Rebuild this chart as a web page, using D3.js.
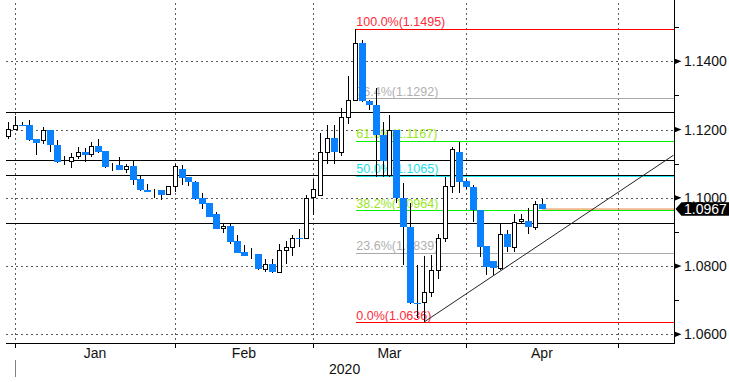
<!DOCTYPE html>
<html><head><meta charset="utf-8">
<script src="https://cdn.jsdelivr.net/npm/d3@7"></script>
<style>html,body{margin:0;padding:0;background:#fff;} svg{display:block;}</style>
</head><body>
<svg id="chart" width="729" height="382"></svg>
<script>
// ---- data (daily EUR/USD candles, Dec 31 2019 -> mid April 2020) ----
const openP  = [1.1180,1.1201,1.1213,1.1213,1.1171,1.1169,1.1199,1.1154,1.1109,1.1108,1.1122,1.1134,1.1128,1.1152,1.1137,1.1095,1.1095,1.1084,1.1093,1.1054,1.1023,1.1021,1.1023,1.1010,1.1034,1.1084,1.1061,1.1046,1.0999,1.0985,1.0953,1.0911,1.0917,1.0873,1.0840,1.0834,1.0835,1.0791,1.0806,1.0784,1.0846,1.0856,1.0883,1.0881,1.1002,1.1007,1.1133,1.1175,1.1135,1.1238,1.1286,1.1455,1.1283,1.1272,1.1184,1.1067,1.1199,1.0999,1.0915,1.0691,1.0694,1.0725,1.0789,1.0881,1.1035,1.1135,1.1049,1.1031,1.0964,1.0859,1.0815,1.0793,1.0893,1.0857,1.0931,1.0932,1.0914,1.0982];
const highP  = [1.1221,1.1240,1.1221,1.1228,1.1171,1.1207,1.1199,1.1169,1.1122,1.1131,1.1149,1.1145,1.1163,1.1173,1.1137,1.1103,1.1119,1.1099,1.1108,1.1064,1.1040,1.1027,1.1023,1.1036,1.1098,1.1096,1.1061,1.1048,1.1013,1.0985,1.0958,1.0923,1.0922,1.0891,1.0862,1.0852,1.0835,1.0821,1.0820,1.0865,1.0873,1.0890,1.0910,1.1007,1.1055,1.1189,1.1213,1.1214,1.1262,1.1357,1.1495,1.1462,1.1287,1.1322,1.1223,1.1243,1.1199,1.1044,1.0986,1.0803,1.0830,1.0832,1.0893,1.1060,1.1150,1.1164,1.1052,1.1038,1.0964,1.0859,1.0815,1.0922,1.0906,1.0953,1.0953,1.0969,1.0992,1.0996];
const lowP   = [1.1173,1.1199,1.1211,1.1166,1.1126,1.1159,1.1135,1.1103,1.1095,1.1088,1.1115,1.1105,1.1120,1.1132,1.1088,1.1079,1.1082,1.1074,1.1038,1.1021,1.1018,1.1000,1.0994,1.1008,1.1018,1.1038,1.1035,1.0995,1.0968,1.0945,1.0910,1.0896,1.0864,1.0837,1.0830,1.0822,1.0789,1.0783,1.0781,1.0784,1.0807,1.0830,1.0857,1.0881,1.0949,1.1007,1.1099,1.1099,1.1123,1.1215,1.1286,1.1281,1.1257,1.1060,1.1060,1.1060,1.0984,1.0803,1.0689,1.0648,1.0636,1.0710,1.0761,1.0871,1.1013,1.1013,1.1027,1.0930,1.0827,1.0774,1.0774,1.0789,1.0842,1.0842,1.0923,1.0895,1.0906,1.0967];
const closeP = [1.1201,1.1213,1.1211,1.1170,1.1161,1.1198,1.1154,1.1106,1.1109,1.1120,1.1133,1.1126,1.1151,1.1135,1.1091,1.1095,1.1082,1.1092,1.1053,1.1024,1.1018,1.1021,1.1009,1.1034,1.1092,1.1059,1.1045,1.0997,1.0983,1.0945,1.0910,1.0917,1.0871,1.0839,1.0830,1.0834,1.0791,1.0805,1.0784,1.0846,1.0856,1.0882,1.0880,1.1000,1.1025,1.1133,1.1174,1.1135,1.1238,1.1286,1.1453,1.1283,1.1272,1.1184,1.1108,1.1199,1.0999,1.0915,1.0691,1.0688,1.0725,1.0789,1.0881,1.1035,1.1142,1.1047,1.1031,1.0964,1.0857,1.0798,1.0793,1.0893,1.0857,1.0930,1.0937,1.0913,1.0982,1.0967];

const monthLabels   = ["Jan","Feb","Mar","Apr"];
const monthStartIdx = [1,24,44,66,88];
const yearLabel     = "2020";
const priceTicks    = [1.06,1.07,1.08,1.09,1.10,1.11,1.12,1.13,1.14,1.15];
const labeledTicks  = [1.06,1.08,1.10,1.12,1.14];
const levelLines    = [1.1251,1.1110,1.1067,1.0925];
const fibValues     = [1.1495,1.1292,1.1167,1.1065,1.0964,1.0839,1.0636];
const fibLabels     = ["100.0%(1.1495)","76.4%(1.1292)","61.8%(1.1167)","50.0%(1.1065)","38.2%(1.0964)","23.6%(1.0839)","0.0%(1.0636)"];
const fibLineColors = ["#ff0000","#aaaaaa","#00ee00","#22e6ee","#00ee00","#aaaaaa","#ff0000"];
const fibTextColors = ["#ff2a3a","#b0b0b0","#9ae61c","#1ee0ea","#9ae61c","#b0b0b0","#ff2a3a"];
const fibStartIdx   = 50;
const trendIdx      = [60,96];
const trendPrice    = [1.0636,1.1125];
const lastPrice     = 1.0967;

// ---- layout ----
const W = 729, H = 382;
const plotL = 6, plotR = 674, plotT = 0, plotB = 343.5;
const x = d3.scaleLinear().domain([0,96]).range([8.3,673.6]);
const y = d3.scaleLinear().domain([1.06,1.14]).range([334.3,61.3]);
const px = v => Math.round(v) + 0.5;
const FONT = "'Liberation Sans', Arial, sans-serif";

const svg = d3.select("#chart");
const n = openP.length;
const candles = d3.range(n).map(i => ({i, o:openP[i], h:highP[i], l:lowP[i], c:closeP[i]}));

// gridlines
const grid = svg.append("g").attr("stroke","#5a5a5a").attr("stroke-width",1).attr("stroke-dasharray","2,3").attr("shape-rendering","crispEdges");
grid.selectAll("line.h").data(labeledTicks).join("line")
  .attr("x1",plotL).attr("x2",plotR).attr("y1",d=>px(y(d))).attr("y2",d=>px(y(d)));
grid.selectAll("line.v").data(monthStartIdx).join("line").attr("class","v")
  .attr("x1",d=>px(x(d))).attr("x2",d=>px(x(d))).attr("y1",3).attr("y2",plotB);

// horizontal level lines
svg.append("g").selectAll("line").data(levelLines).join("line")
  .attr("x1",plotL).attr("x2",plotR).attr("y1",d=>px(y(d))).attr("y2",d=>px(y(d)))
  .attr("stroke","#000").attr("stroke-width",1.3).attr("shape-rendering","crispEdges");

// fibonacci levels
const fx = x(fibStartIdx);
const fib = svg.append("g");
fib.selectAll("line").data(fibValues).join("line")
  .attr("x1",px(fx)).attr("x2",plotR).attr("y1",d=>px(y(d))).attr("y2",d=>px(y(d)))
  .attr("stroke",(d,i)=>fibLineColors[i]).attr("stroke-width",1.2).attr("shape-rendering","crispEdges");
fib.append("line").attr("x1",px(fx)).attr("x2",px(fx)).attr("y1",px(y(fibValues[0]))).attr("y2",y(closeP[fibStartIdx]))
  .attr("stroke","#000").attr("shape-rendering","crispEdges");
fib.selectAll("text").data(fibLabels).join("text")
  .attr("x",fx+1.5).attr("y",(d,i)=>y(fibValues[i])-2.5)
  .attr("fill",(d,i)=>fibTextColors[i]).attr("font-family",FONT).attr("font-size","12.5px")
  .text(d=>d);

// current price line
svg.append("line").attr("x1",x(n-1)).attr("x2",plotR).attr("y1",y(lastPrice)).attr("y2",y(lastPrice))
  .attr("stroke","#e8823a").attr("stroke-width",1);

// candles
const cg = svg.append("g").attr("shape-rendering","crispEdges");
cg.selectAll("line.wick").data(candles).join("line").attr("class","wick")
  .attr("x1",d=>px(x(d.i))).attr("x2",d=>px(x(d.i))).attr("y1",d=>y(d.h)).attr("y2",d=>y(d.l))
  .attr("stroke","#000").attr("stroke-width",1);
cg.selectAll("rect.bear").data(candles.filter(d=>d.c<d.o)).join("rect").attr("class","bear")
  .attr("x",d=>Math.round(x(d.i))-3).attr("width",7)
  .attr("y",d=>y(d.o)).attr("height",d=>Math.max(1,y(d.c)-y(d.o)))
  .attr("fill","#0a82ff");
cg.selectAll("rect.bull").data(candles.filter(d=>d.c>=d.o)).join("rect").attr("class","bull")
  .attr("x",d=>Math.round(x(d.i))-1.5).attr("width",4)
  .attr("y",d=>px(y(d.c))).attr("height",d=>Math.max(0,Math.round(y(d.o))-Math.round(y(d.c))))
  .attr("fill","#fff").attr("stroke","#000").attr("stroke-width",1);

// trendline
svg.append("line").attr("x1",x(trendIdx[0])).attr("y1",y(trendPrice[0]))
  .attr("x2",x(trendIdx[1])).attr("y2",y(trendPrice[1]))
  .attr("stroke","#222").attr("stroke-width",1);

// right axis
const ra = svg.append("g");
ra.append("line").attr("x1",px(plotR)).attr("x2",px(plotR)).attr("y1",0).attr("y2",plotB)
  .attr("stroke","#000").attr("shape-rendering","crispEdges");
ra.selectAll("line.minor").data(priceTicks.filter(t=>!labeledTicks.some(l=>Math.abs(l-t)<1e-9))).join("line")
  .attr("x1",plotR).attr("x2",plotR+5).attr("y1",d=>px(y(d))).attr("y2",d=>px(y(d)))
  .attr("stroke","#000").attr("shape-rendering","crispEdges");
ra.selectAll("path.major").data(labeledTicks).join("path")
  .attr("d",d=>{const yy=y(d);return `M${plotR+1},${yy-2.6}L${plotR+7.5},${yy}L${plotR+1},${yy+2.6}Z`;})
  .attr("fill","#000");
ra.selectAll("text").data(labeledTicks).join("text")
  .attr("x",684).attr("y",d=>y(d)).attr("dy","0.36em")
  .attr("font-family",FONT).attr("font-size","14px").attr("fill","#111")
  .text(d=>d3.format(".4f")(d));

// last price tag
const ly = y(lastPrice);
svg.append("path").attr("d",`M675.5,${ly}L681.5,${ly-6.8}L729,${ly-6.8}L729,${ly+6.8}L681.5,${ly+6.8}Z`).attr("fill","#000");
svg.append("text").attr("x",684).attr("y",ly).attr("dy","0.36em")
  .attr("font-family",FONT).attr("font-size","14px").attr("fill","#fff").text(d3.format(".4f")(lastPrice));

// bottom axis
const ba = svg.append("g");
ba.append("line").attr("x1",plotL).attr("x2",plotR+1).attr("y1",plotB).attr("y2",plotB)
  .attr("stroke","#000").attr("stroke-width",1.2).attr("shape-rendering","crispEdges");
ba.selectAll("line.tick").data(monthStartIdx).join("line")
  .attr("x1",d=>px(x(d))).attr("x2",d=>px(x(d))).attr("y1",plotB).attr("y2",plotB+4)
  .attr("stroke","#000").attr("shape-rendering","crispEdges");
ba.selectAll("text").data(monthLabels).join("text")
  .attr("x",(d,i)=>(x(monthStartIdx[i])+x(monthStartIdx[i+1]))/2).attr("y",357.5)
  .attr("text-anchor","middle").attr("font-family",FONT).attr("font-size","14px").attr("fill","#111")
  .text(d=>d);
ba.append("line").attr("x1",px(x(monthStartIdx[0]))).attr("x2",px(x(monthStartIdx[0]))).attr("y1",360).attr("y2",377)
  .attr("stroke","#808080").attr("shape-rendering","crispEdges");
ba.append("text").attr("x",(x(monthStartIdx[0])+plotR)/2).attr("y",374)
  .attr("text-anchor","middle").attr("font-family",FONT).attr("font-size","14px").attr("fill","#111").text(yearLabel);
</script>
</body></html>
